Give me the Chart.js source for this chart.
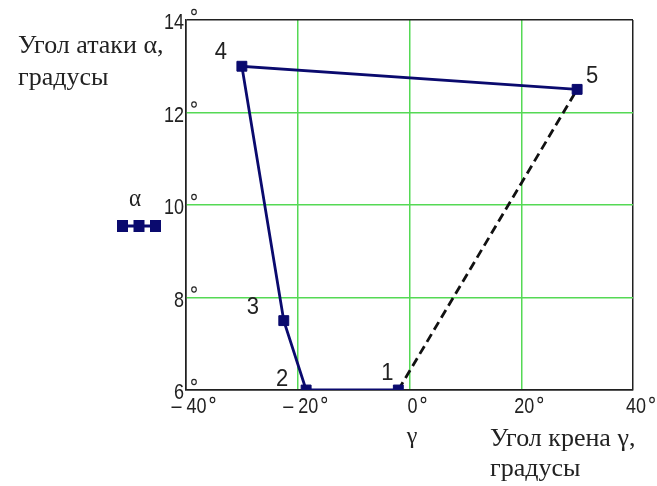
<!DOCTYPE html>
<html lang="ru">
<head>
<meta charset="utf-8">
<title>Угол атаки и угол крена</title>
<script src="https://cdn.jsdelivr.net/npm/chart.js@4/dist/chart.umd.min.js"></script>
<style>
  html, body { margin: 0; padding: 0; background: #ffffff; }
  #wrap { width: 657px; height: 486px; position: relative; }
</style>
</head>
<body>
<div id="wrap"><canvas id="chart" width="657" height="486"></canvas></div>
<script>
// Режимы полёта: угол крена γ и угол атаки α, градусы
const pointNames = ['1', '2', '3', '4', '5'];
const gammaDeg = [-2, -18.5, -22.5, -30, 30];
const alphaDeg = [6, 6, 7.5, 13, 12.5];

// Замыкающий участок 1 → 5 (штриховой)
const closingIdx = [0, 4];

// Деления осей
const gammaTicks = [-40, -20, 0, 20, 40];
const alphaTicks = [6, 8, 10, 12, 14];

const NAVY = '#0a0a6e';
const FRAME = '#202020';
const GRID = '#55d955';
const TEXT = '#222222';
const SERIF = "'Liberation Serif', 'Times New Roman', serif";
const SANS = "'Liberation Sans', Arial, sans-serif";
const STRETCH = 1.22; // вертикальное растяжение цифр на осях

// Смещения номеров точек относительно маркеров
const nameOffsets = [[-11, -17], [-24, -11], [-31, -13], [-21, -14], [15, -13]];

const mainPts = gammaDeg.map((g, i) => ({ x: g, y: alphaDeg[i] }));
const closingPts = closingIdx.map(i => ({ x: gammaDeg[i], y: alphaDeg[i] }));

function fmtGamma(v) {
  return v < 0 ? '\u2013 ' + Math.abs(v) : String(v);
}

function drawText(ctx, text, x, y, font, align, sy) {
  ctx.save();
  ctx.font = font;
  ctx.textAlign = align || 'left';
  ctx.textBaseline = 'middle';
  ctx.fillStyle = TEXT;
  ctx.translate(x, y);
  ctx.scale(1, sy || STRETCH);
  ctx.fillText(text, 0, 0);
  ctx.restore();
}

function degree(ctx, x, y) {
  ctx.save();
  ctx.strokeStyle = TEXT;
  ctx.lineWidth = 1.1;
  ctx.beginPath();
  ctx.ellipse(x, y, 2.3, 2.6, 0, 0, Math.PI * 2);
  ctx.stroke();
  ctx.restore();
}

const annotations = {
  id: 'annotations',
  afterDraw(chart) {
    const ctx = chart.ctx;
    const xs = chart.scales.x;
    const ys = chart.scales.y;
    const area = chart.chartArea;

    // Подписи оси α
    alphaTicks.forEach(v => {
      const py = ys.getPixelForValue(v);
      drawText(ctx, String(v), area.left - 2, py + 3, '18px ' + SANS, 'right');
      degree(ctx, area.left + 8, py - 8);
    });

    // Подписи оси γ
    gammaTicks.forEach(v => {
      const px = xs.getPixelForValue(v);
      const label = fmtGamma(v);
      ctx.font = '18px ' + SANS;
      const w = ctx.measureText(label).width;
      const cx = px + 3;
      drawText(ctx, label, cx, area.bottom + 17, '18px ' + SANS, 'center');
      degree(ctx, cx + w / 2 + 6, area.bottom + 10);
    });

    // Номера точек
    mainPts.forEach((p, i) => {
      const px = xs.getPixelForValue(p.x) + nameOffsets[i][0];
      const py = ys.getPixelForValue(p.y) + nameOffsets[i][1];
      drawText(ctx, pointNames[i], px, py, '22px ' + SANS, 'center', 1.12);
    });

    // Обозначение кривой α
    drawText(ctx, '\u03b1', 135, 200, '23px ' + SERIF, 'center', 1.05);
    ctx.save();
    ctx.strokeStyle = NAVY;
    ctx.lineWidth = 3;
    ctx.beginPath();
    ctx.moveTo(118, 226);
    ctx.lineTo(161, 226);
    ctx.stroke();
    ctx.fillStyle = NAVY;
    [122.5, 139, 155.5].forEach(cx => ctx.fillRect(cx - 5.5, 220, 11, 12));
    ctx.restore();

    // Названия осей
    drawText(ctx, 'Угол атаки \u03b1,', 18, 46, '26px ' + SERIF, 'left', 1.0);
    drawText(ctx, 'градусы', 18, 78, '26px ' + SERIF, 'left', 1.0);
    drawText(ctx, '\u03b3', 412, 437, '24px ' + SERIF, 'center', 1.0);
    drawText(ctx, 'Угол крена \u03b3,', 490, 439, '26px ' + SERIF, 'left', 1.0);
    drawText(ctx, 'градусы', 490, 469, '26px ' + SERIF, 'left', 1.0);
  }
};

const gridColor = (edges) => (c) =>
  (c.tick && edges.includes(c.tick.value)) ? FRAME : GRID;

new Chart(document.getElementById('chart'), {
  type: 'scatter',
  data: {
    datasets: [
      {
        label: '\u03b1',
        data: mainPts,
        showLine: true,
        borderColor: NAVY,
        borderWidth: 2.8,
        pointStyle: 'rect',
        pointRadius: 7,
        pointBackgroundColor: NAVY,
        pointBorderColor: NAVY,
        pointBorderWidth: 1,
        clip: 0,
        order: 1
      },
      {
        label: 'closing',
        data: closingPts,
        showLine: true,
        borderColor: '#111111',
        borderWidth: 2.8,
        borderDash: [9, 5],
        pointRadius: 0,
        clip: 0,
        order: 2
      }
    ]
  },
  options: {
    responsive: false,
    animation: false,
    events: [],
    layout: { padding: { left: 186, top: 20, right: 24, bottom: 96 } },
    plugins: { legend: { display: false }, tooltip: { enabled: false } },
    scales: {
      x: {
        type: 'linear',
        min: -40,
        max: 40,
        afterBuildTicks: (s) => { s.ticks = gammaTicks.map(v => ({ value: v })); },
        afterFit: (s) => { s.height = 0; },
        ticks: { display: false },
        grid: {
          drawTicks: false,
          color: gridColor([-40, 40]),
          lineWidth: 1.5
        },
        border: { display: true, color: FRAME, width: 1.5 }
      },
      y: {
        type: 'linear',
        min: 6,
        max: 14,
        afterBuildTicks: (s) => { s.ticks = alphaTicks.map(v => ({ value: v })); },
        afterFit: (s) => { s.width = 0; },
        ticks: { display: false },
        grid: {
          drawTicks: false,
          color: gridColor([6, 14]),
          lineWidth: 1.5
        },
        border: { display: true, color: FRAME, width: 1.5 }
      }
    }
  },
  plugins: [annotations]
});
</script>
</body>
</html>
